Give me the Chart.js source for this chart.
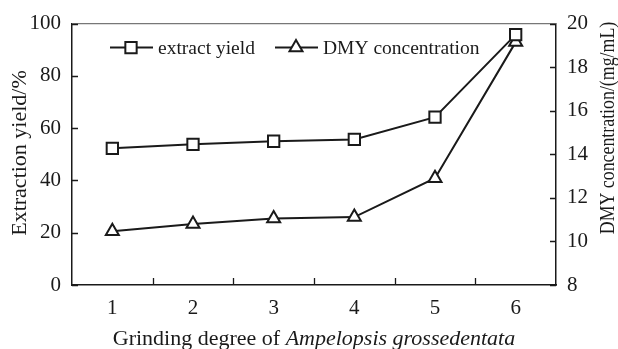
<!DOCTYPE html>
<html>
<head>
<meta charset="utf-8">
<script src="https://cdn.jsdelivr.net/npm/chart.js@4.4.1/dist/chart.umd.min.js"></script>
<style>
  html, body { margin: 0; padding: 0; background: #fff; }
  #wrap { width: 618px; height: 349px; }
</style>
</head>
<body>
<div id="wrap"><canvas id="grafico"></canvas></div>
<script>
// dados
const graus = ['1', '2', '3', '4', '5', '6'];
const rendimento = [52.3, 53.8, 55.0, 55.7, 64.2, 95.8];   // extract yield (%)
const concentracao = [10.47, 10.8, 11.05, 11.12, 12.9, 19.15]; // DMY (mg/mL)
const ticksEsq = [0, 20, 40, 60, 80, 100];
const ticksDir = [8, 10, 12, 14, 16, 18, 20];

const fonte = '"Liberation Serif", "Times New Roman", serif';
const preto = '#1a1a1a';

// desenha moldura, marcas internas, legenda e títulos
const extras = {
  id: 'extras',
  afterDraw(chart) {
    const ctx = chart.ctx;
    const a = chart.chartArea;
    const sx = chart.scales.x, sy = chart.scales.y, sy1 = chart.scales.y1;
    ctx.save();

    // borda de cima
    ctx.strokeStyle = '#777';
    ctx.lineWidth = 1.2;
    ctx.beginPath();
    ctx.moveTo(a.left, a.top);
    ctx.lineTo(a.right, a.top);
    ctx.stroke();

    // marcas para dentro
    ctx.strokeStyle = preto;
    ctx.lineWidth = 1.3;
    ctx.beginPath();
    ticksEsq.forEach(v => {
      const y = Math.round(sy.getPixelForValue(v)) + 0.5;
      ctx.moveTo(a.left, y); ctx.lineTo(a.left + 6, y);
    });
    ticksDir.forEach(v => {
      const y = Math.round(sy1.getPixelForValue(v)) + 0.5;
      ctx.moveTo(a.right, y); ctx.lineTo(a.right - 6, y);
    });
    for (let i = 0; i < graus.length - 1; i++) {
      const x = Math.round((sx.getPixelForValue(i) + sx.getPixelForValue(i + 1)) / 2) + 0.5;
      ctx.moveTo(x, a.bottom); ctx.lineTo(x, a.bottom - 7);
    }
    ctx.stroke();

    // legenda
    const ds = chart.data.datasets;
    const legY = a.top + 24;
    const itens = [
      { x0: a.left + 38, estilo: 'rect', r: 8 },
      { x0: a.left + 203, estilo: 'triangle', r: 7.5 }
    ];
    ctx.font = '19.5px ' + fonte;
    ctx.textBaseline = 'alphabetic';
    itens.forEach((it, k) => {
      ctx.strokeStyle = preto;
      ctx.lineWidth = 2;
      ctx.beginPath();
      ctx.moveTo(it.x0, legY);
      ctx.lineTo(it.x0 + 43, legY);
      ctx.stroke();
      ctx.fillStyle = '#fff';
      Chart.helpers.drawPoint(ctx, { pointStyle: it.estilo, radius: it.r, borderWidth: 2, rotation: 0 }, it.x0 + 21, legY);
      ctx.fillStyle = preto;
      ctx.fillText(ds[k].label, it.x0 + 48, legY + 6);
    });

    // título eixo x (com parte em itálico)
    const partes = [
      { t: 'Grinding degree of ', f: '22px ' + fonte },
      { t: 'Ampelopsis grossedentata', f: 'italic 22px ' + fonte }
    ];
    let largura = 0;
    partes.forEach(p => { ctx.font = p.f; p.w = ctx.measureText(p.t).width; largura += p.w; });
    let x = (a.left + a.right) / 2 - largura / 2;
    ctx.textAlign = 'left';
    partes.forEach(p => {
      ctx.font = p.f;
      ctx.fillText(p.t, x, 345);
      x += p.w;
    });

    // títulos dos eixos y
    ctx.textAlign = 'center';
    ctx.textBaseline = 'middle';
    ctx.save();
    ctx.font = '22px ' + fonte;
    ctx.translate(20, 153);
    ctx.rotate(-Math.PI / 2);
    ctx.fillText('Extraction yield/%', 0, 0);
    ctx.restore();
    ctx.save();
    ctx.font = '20.5px ' + fonte;
    ctx.translate(609, 128);
    ctx.rotate(-Math.PI / 2);
    ctx.scale(0.87, 1); // o original é um pouco condensado
    ctx.fillText('DMY concentration/(mg/mL)', 0, 0);
    ctx.restore();

    ctx.restore();
  }
};

function inicializarGrafico() {
  const ctx = document.getElementById('grafico').getContext('2d');
  new Chart(ctx, {
    type: 'line',
    data: {
      labels: graus,
      datasets: [
        {
          label: 'extract yield',
          data: rendimento,
          yAxisID: 'y',
          borderColor: preto,
          borderWidth: 2,
          pointStyle: 'rect',
          pointRadius: 8,
          pointBorderWidth: 2,
          pointBackgroundColor: '#fff',
          pointBorderColor: preto,
          tension: 0
        },
        {
          label: 'DMY concentration',
          data: concentracao,
          yAxisID: 'y1',
          borderColor: preto,
          borderWidth: 2,
          pointStyle: 'triangle',
          pointRadius: 7.5,
          pointBorderWidth: 2,
          pointBackgroundColor: '#fff',
          pointBorderColor: preto,
          tension: 0
        }
      ]
    },
    options: {
      responsive: true,
      maintainAspectRatio: false,
      animation: false,
      layout: { padding: { top: 23, left: 0, right: 0, bottom: 0 } },
      plugins: {
        legend: { display: false },
        tooltip: { enabled: false }
      },
      scales: {
        x: {
          type: 'category',
          offset: true,
          grid: { display: false, drawTicks: false },
          border: { display: true, color: preto, width: 1.5 },
          ticks: { color: preto, font: { family: fonte, size: 21 }, padding: 11, maxRotation: 0 },
          afterFit: s => { s.height = 64; }
        },
        y: {
          position: 'left',
          min: 0, max: 100,
          grid: { display: false, drawTicks: false },
          border: { display: true, color: preto, width: 1.5 },
          ticks: { stepSize: 20, color: preto, font: { family: fonte, size: 21 }, padding: 11 },
          afterFit: s => { s.width = 72; }
        },
        y1: {
          position: 'right',
          min: 8, max: 20,
          grid: { display: false, drawTicks: false },
          border: { display: true, color: preto, width: 1.5 },
          ticks: { stepSize: 2, color: preto, font: { family: fonte, size: 21 }, padding: 11 },
          afterFit: s => { s.width = 62; }
        }
      }
    },
    plugins: [extras]
  });
}

document.addEventListener('DOMContentLoaded', () => {
  inicializarGrafico();
});
</script>
</body>
</html>
